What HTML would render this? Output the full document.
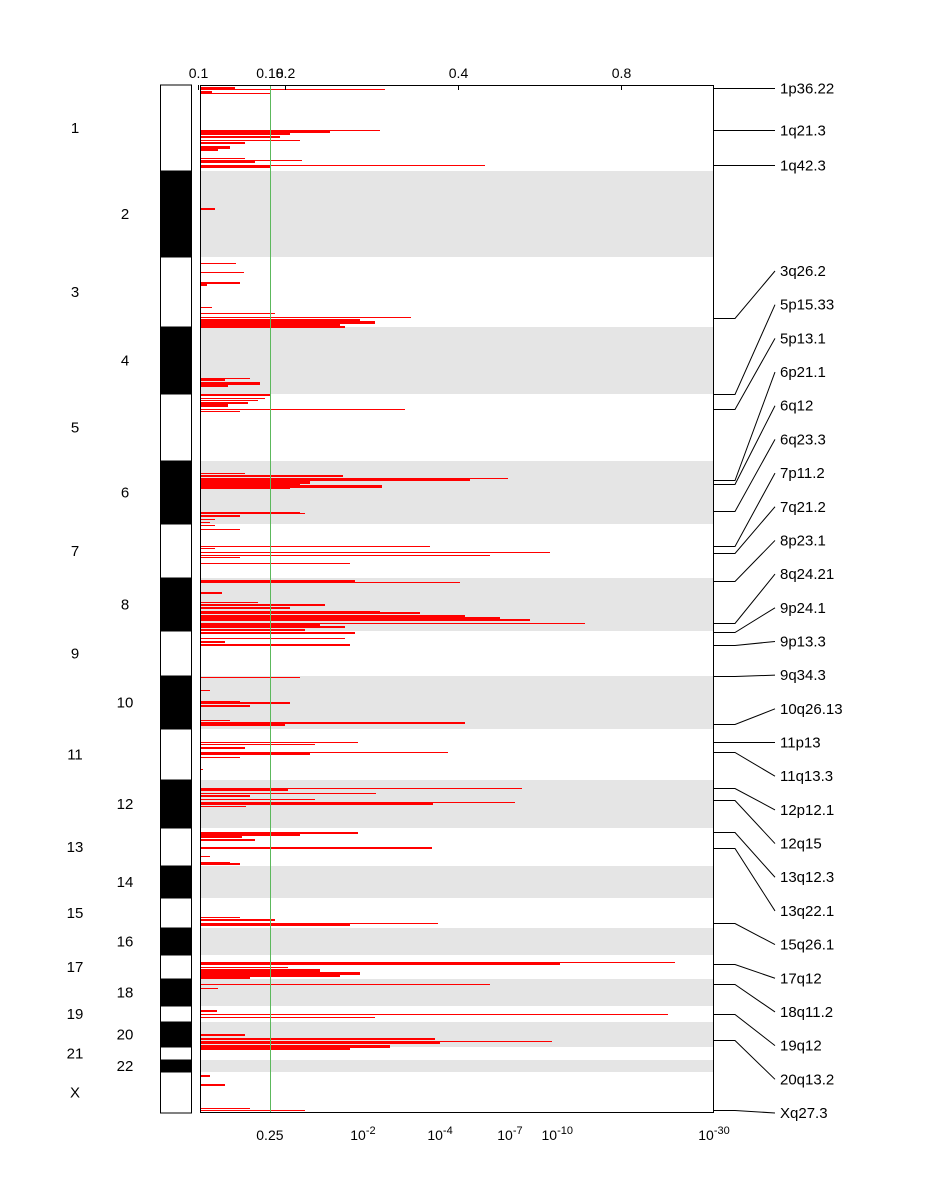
<!DOCTYPE html>
<html><head><meta charset="utf-8"><style>
body{margin:0;background:#fff;}
svg{display:block;font-family:"Liberation Sans",sans-serif;}
</style></head><body>
<svg id="chart" width="948" height="1200" viewBox="0 0 948 1200" xmlns="http://www.w3.org/2000/svg"></svg>
<script>
// genome position units (0..1028) along the y axis
const chromNames = ["1","2","3","4","5","6","7","8","9","10","11","12","13","14","15","16","17","18","19","20","21","22","X"];
const chromStarts = [0,86,172,242,309,376,439,493,546,591,644,695,743,781,813,843,870,894,921,937,962,975,987];
const genomeEnd = 1028;
// amplification segments
const segPos = [3,4,7,8,45,46,49,52,55,58,62,65,73,75,77,80,82,124,178,187,198,200,222,228,232,235,237,240,242,293,295,298,301,310,313,315,318,320,324,326,388,391,393,395,397,399,401,403,427,428,431,434,437,440,444,461,463,467,470,472,478,496,497,508,517,520,523,527,528,531,533,535,538,540,542,545,548,553,557,560,592,605,616,618,621,635,638,640,657,659,663,667,669,672,684,703,705,708,711,714,717,719,721,748,750,752,755,763,771,777,779,832,835,838,840,877,879,882,885,888,891,893,899,903,926,929,932,950,954,956,958,961,963,991,1000,1023,1025];
const segScore = [6.8,36,2.3,13.6,35,25.3,17.5,15.6,19.5,8.8,5.8,3.5,8.8,19.8,10.7,55.4,13.6,2.9,7,8.6,7.8,1.4,2.3,14.6,41,31.1,34,27.2,28.2,9.7,4.9,11.7,5.4,13.6,12.6,11.3,9.3,5.4,39.9,7.8,8.8,27.8,59.9,52.5,21.4,19.5,35.4,17.5,19.5,20.4,7.8,2.9,1.9,2.9,7.8,44.7,2.9,68.1,56.4,7.8,29.2,30.2,50.6,4.3,11.3,24.3,17.5,35,42.8,51.6,58.4,64.2,74.9,23.3,28.2,20.4,30.2,28.2,4.9,29.2,19.5,1.9,7.8,17.5,9.7,5.8,51.6,16.5,30.7,22.4,8.8,48.2,21.4,7.8,0.6,62.6,17.1,34.2,9.7,22.4,61.3,45.3,8.9,30.7,19.5,8.2,10.7,45.1,1.9,5.8,7.8,7.8,14.6,46.3,29.2,92.4,70,17.1,23.3,31.1,27.2,9.7,56.4,3.5,3.3,91,34,8.8,45.7,68.5,46.7,37,29.2,1.9,4.9,9.7,20.4];
const segThick = [3,1,2,1,1,3,2,2,1,2,3,2,1,1,2,1,2,2,1,1,2,2,1,1,1,3,3,2,2,1,2,3,2,2,1,1,2,3,1,1,1,2,1,2,3,2,3,2,1,1,2,1,1,1,1,1,1,1,1,1,1,2,1,2,1,2,2,2,2,3,3,2,1,2,2,2,2,1,2,2,1,1,1,2,2,1,2,2,1,1,2,1,2,1,1,1,2,1,2,1,1,2,1,2,2,2,2,2,1,1,2,1,2,1,2,1,2,1,3,3,2,2,1,1,2,1,1,2,2,1,2,3,3,2,2,1,1,2,2];
// peak labels and their positions
const peakNames = ["1p36.22","1q21.3","1q42.3","3q26.2","5p15.33","5p13.1","6p21.1","6q12","6q23.3","7p11.2","7q21.2","8p23.1","8q24.21","9p24.1","9p13.3","9q34.3","10q26.13","11p13","11q13.3","12p12.1","12q15","13q12.3","13q22.1","15q26.1","17q12","18q11.2","19q12","20q13.2","Xq27.3"];
const peakPos = [3,45,80,233,309,324,395,399,426,461,468,496,538,547,560,591,639,657,667,703,715,747,763,838,879,899,929,955,1025];
const topTicks = ["0.1","0.2","0.4","0.8"];
const topTickScore = [-0.4,16.5,50.2,81.9];
const bottomTicks = ["0.25","10","10","10","10","10"];
const bottomExp = ["","-2","-4","-7","-10","-30"];
const bottomTickScore = [13.6,31.7,46.7,60.3,69.5,100];
const thresholdScore = 13.6;

const svg = document.getElementById('chart');
const NS = "http://www.w3.org/2000/svg";
const X0=200,X1=714,Y0=85,Y1=1113;
const xS = v => X0 + v*(X1-X0)/100;
const yS = p => Y0 + p*(Y1-Y0)/genomeEnd;
function mk(tag, attrs, parent){const e=document.createElementNS(NS,tag);for(const k in attrs)e.setAttribute(k,attrs[k]);(parent||svg).appendChild(e);return e;}

chromNames.forEach((c,i)=>{
  const a=Math.round(yS(chromStarts[i])), b=Math.round(yS(i+1<chromStarts.length?chromStarts[i+1]:genomeEnd));
  const even = i%2===1;
  if(even){
    const r=mk('rect',{x:X0,y:a,width:X1-X0,height:b-a,fill:'#e5e5e5'});
    
    
  }
  const cb=mk('rect',{x:160.5,y:a,width:31,height:b-a,fill:even?'#000':'#fff',stroke:'#000','stroke-width':1});
  
  
  const t=mk('text',{x:even?125:75,y:(a+b)/2+5,'font-size':15,'text-anchor':'middle'});
  t.textContent=c;
  
  
});
segPos.forEach((p,i)=>{
  const y=Math.round(yS(p));
  const th=segThick[i]||2;
  const l=mk('rect',{x:X0,y:y-Math.floor(th/2),width:Math.round(xS(segScore[i])-X0),height:th,fill:'#ff0000'});
  
  
});
const thl=mk('line',{x1:Math.round(xS(thresholdScore))+0.5,x2:Math.round(xS(thresholdScore))+0.5,y1:Y0,y2:Y1,stroke:'#5cb85c','stroke-width':1});


const fr=mk('rect',{x:X0+0.5,y:Y0+0.5,width:X1-X0-1,height:Y1-Y0-1,fill:'none',stroke:'#000','stroke-width':1});


topTicks.forEach((t,i)=>{
  const x=Math.round(xS(topTickScore[i]))+0.5;
  mk('line',{x1:x,x2:x,y1:Y0,y2:Y0+5,stroke:'#000'});
  const e=mk('text',{x:x,y:78,'font-size':14,'text-anchor':'middle'});
  e.textContent=t;
  
  
});
const g18=mk('text',{x:xS(thresholdScore),y:78,'font-size':14,'text-anchor':'middle'});
g18.textContent="0.18";


bottomTicks.forEach((t,i)=>{
  const x=xS(bottomTickScore[i]);
  const e=mk('text',{x:x,y:1140,'font-size':14,'text-anchor':'middle'});
  e.textContent=t;
  if(bottomExp[i]){const s=mk('tspan',{dy:-6,'font-size':11},e);s.textContent=bottomExp[i];}
  
  
});
peakNames.forEach((n,i)=>{
  const py=Math.round(yS(peakPos[i]))+0.5;
  const ly = i<3 ? py : 271+(i-3)*(1113-271)/(peakNames.length-4);
  const pl=mk('polyline',{points:`${X1},${py} ${735},${py} ${775},${ly}`,fill:'none',stroke:'#000','stroke-width':1});
  
  
  const t=mk('text',{x:780,y:ly+5,'font-size':15});
  t.textContent=n;
  
  
});
</script>
</body></html>
